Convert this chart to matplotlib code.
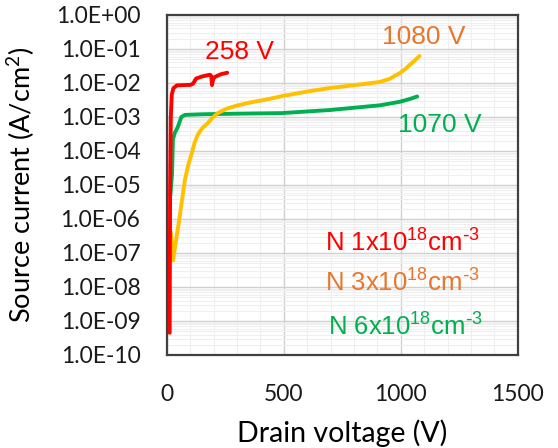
import matplotlib
matplotlib.use("Agg")
import matplotlib.pyplot as plt
from matplotlib.ticker import FixedLocator, NullFormatter, LogLocator

plt.rcParams['font.family'] = ['Lato', 'DejaVu Sans']
plt.rcParams['mathtext.default'] = 'regular'

# source current vs drain voltage for three doping levels
v_1e18 = [12, 14, 17, 21, 28, 43, 100, 112, 125, 150, 184, 190, 193, 198, 205, 230, 258]
i_1e18 = [4.5e-10, 1e-5, 1e-3, 4.5e-3, 7e-3, 8.5e-3, 8.8e-3, 9.5e-3, 1.35e-2, 1.55e-2,
          1.75e-2, 1.6e-2, 8.7e-3, 1.3e-2, 1.5e-2, 1.8e-2, 2.0e-2]

v_3e18 = [18, 22, 26, 51, 77, 92, 107, 118, 132, 150, 175, 195, 218, 255, 303, 360, 419,
          500, 600, 697, 800, 910, 950, 996, 1020, 1038, 1060, 1080]
i_3e18 = [4e-7, 1.5e-7, 6e-8, 7.6e-7, 1.4e-5, 4e-5, 8.7e-5, 1.7e-4, 3e-4, 4.6e-4, 6.6e-4,
          9.5e-4, 1.3e-3, 1.75e-3, 2.2e-3, 2.7e-3, 3.2e-3, 4.2e-3, 5.6e-3, 7.1e-3, 8.6e-3,
          1.07e-2, 1.3e-2, 1.96e-2, 2.6e-2, 3.4e-2, 4.6e-2, 6.2e-2]

v_6e18 = [15, 22, 26, 34, 47, 62, 77, 150, 300, 491, 697, 910, 996, 1040, 1070]
i_6e18 = [5e-6, 2e-5, 2.2e-4, 3.4e-4, 5.1e-4, 1.0e-3, 1.15e-3, 1.2e-3, 1.25e-3, 1.3e-3,
          1.6e-3, 2.2e-3, 2.8e-3, 3.4e-3, 4.0e-3]

y_ticks = [10.0 ** k for k in range(-10, 1)]
y_labels = ['1.0E+00' if k == 0 else '1.0E-%02d' % -k for k in range(-10, 1)]

red = '#FF0000'
gold = '#FFC000'
orange = '#E8762D'
green = '#00B050'

fig = plt.figure(figsize=(5.58, 4.48), dpi=100)
ax = fig.add_axes([0.299, 0.2076, 0.629, 0.759])

ax.plot(v_6e18, i_6e18, color=green, lw=2.8, solid_capstyle='round', zorder=3)
ax.plot(v_3e18, i_3e18, color=gold, lw=2.8, solid_capstyle='round', zorder=3)
ax.plot(v_1e18, i_1e18, color=red, lw=2.8, solid_capstyle='round', zorder=4)

ax.set_yscale('log')
ax.set_xlim(0, 1500)
ax.set_ylim(1e-10, 1)
ax.set_xticks([0, 500, 1000, 1500])
ax.xaxis.set_minor_locator(FixedLocator(range(100, 1500, 100)))
ax.set_yticks(y_ticks)
ax.set_yticklabels(y_labels)
ax.yaxis.set_minor_locator(LogLocator(base=10, subs=range(2, 10), numticks=100))
ax.yaxis.set_minor_formatter(NullFormatter())

ax.grid(True, which='major', color='#D0D0D0', lw=1.0)
ax.grid(True, which='minor', color='#EFEFEF', lw=0.8)
ax.set_axisbelow(True)
ax.tick_params(which='both', length=0, labelsize=16.5, colors='#1a1a1a')
ax.tick_params(axis='y', pad=19)
ax.tick_params(axis='x', pad=21)

for s in ax.spines.values():
    s.set_color('#404040')
    s.set_linewidth(1.6)

ax.set_xlabel('Drain voltage (V)', fontsize=20.5)
ax.set_ylabel('Source current (A/cm$^2$)', fontsize=19.5)
ax.xaxis.set_label_coords(0.5, -0.19)
ax.yaxis.set_label_coords(-0.37, 0.5)

ann = dict(fontfamily='Liberation Sans', fontsize=19, va='center', ha='left')
ax.text(162, 10 ** -1.09, '258 V', color=red, **ann)
ax.text(919, 10 ** -0.65, '1080 V', color=orange, **ann)
ax.text(987, 10 ** -3.24, '1070 V', color=green, **ann)

leg = dict(fontfamily='Liberation Sans', fontsize=18.5, va='center', ha='left')
ax.text(675, 10 ** -6.71, r'N 1x10$^{18}$cm$^{\text{-}3}$', color=red, **leg)
ax.text(675, 10 ** -7.88, r'N 3x10$^{18}$cm$^{\text{-}3}$', color=orange, **leg)
ax.text(688, 10 ** -9.18, r'N 6x10$^{18}$cm$^{\text{-}3}$', color=green, **leg)

fig.savefig('out.png', dpi=100)
